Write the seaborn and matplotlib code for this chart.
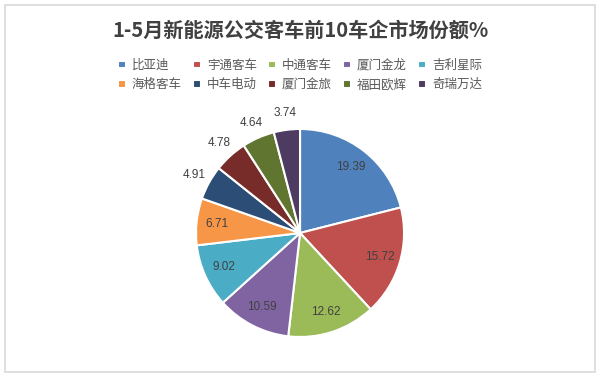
import matplotlib
matplotlib.use("Agg")
import matplotlib.pyplot as plt
import seaborn as sns
from matplotlib.patches import Rectangle
import numpy as np

sns.set_theme(style="white")
plt.rcParams['font.family'] = ['Noto Sans CJK SC', 'DejaVu Sans']

title = "1-5月新能源公交客车前10车企市场份额%"
companies = ["比亚迪", "宇通客车", "中通客车", "厦门金龙", "吉利星际",
             "海格客车", "中车电动", "厦门金旅", "福田欧辉", "奇瑞万达"]
shares = [19.39, 15.72, 12.62, 10.59, 9.02, 6.71, 4.91, 4.78, 4.64, 3.74]
colors = ["#4F81BD", "#C0504D", "#9BBB59", "#8064A2", "#4BACC6",
          "#F79646", "#2C4D75", "#772C2A", "#5F7530", "#4D3B62"]
outside = [False, False, False, False, False, False, True, True, True, True]

fig = plt.figure(figsize=(6.0, 3.79), dpi=100)
fig.patch.set_facecolor("white")

# outer frame
fig.add_artist(Rectangle((5 / 600, 1 - 372 / 379), 590 / 600, 367 / 379,
                         transform=fig.transFigure, fill=False,
                         edgecolor="#d9d9d9", linewidth=1.2))

ax = fig.add_axes([0.2747, 0.0285, 0.4507, 0.7135])
wedges, _ = ax.pie(shares, colors=colors, startangle=90, counterclock=False,
                   wedgeprops=dict(edgecolor="white", linewidth=1.5))
ax.set_xlim(-1.3, 1.3)
ax.set_ylim(-1.3, 1.3)
ax.set_aspect("equal")
ax.axis("off")

for w, val, out in zip(wedges, shares, outside):
    ang = np.deg2rad((w.theta1 + w.theta2) / 2)
    r = 1.16 if out else 0.8
    ax.text(r * np.cos(ang), r * np.sin(ang), f"{val:.2f}",
            ha="center", va="center", fontsize=8.5, color="#404040",
            family=['Liberation Sans', 'DejaVu Sans'])

fig.text(0.5, 1 - 30 / 379, title, ha="center", va="center",
         fontsize=14.5, fontweight="bold", color="#404040")

order = [0, 5, 1, 6, 2, 7, 3, 8, 4, 9]
handles = [wedges[i] for i in order]
labels = [companies[i] for i in order]
fig.legend(handles, labels, ncol=5, loc="center",
           bbox_to_anchor=(0.5, 1 - 75 / 379), frameon=False,
           fontsize=9, handlelength=0.6, handleheight=0.6,
           handletextpad=0.5, columnspacing=0.9, labelspacing=0.5,
           labelcolor="#595959")

fig.savefig("out.png", dpi=100, facecolor="white")
